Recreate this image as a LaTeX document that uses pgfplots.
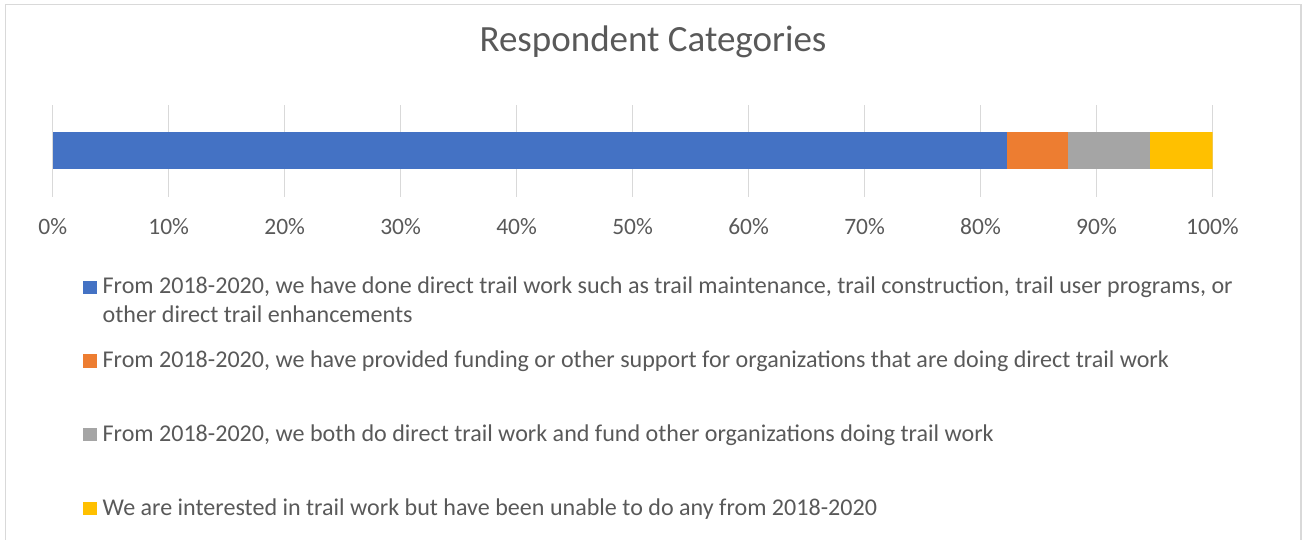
\documentclass[border=0pt]{standalone}
\usepackage{fontspec}
\setmainfont{Carlito}
\usepackage{pgfplots}
\pgfplotsset{compat=1.18}
\definecolor{cblue}{HTML}{4472C4}
\definecolor{corange}{HTML}{ED7D31}
\definecolor{cgray}{HTML}{A5A5A5}
\definecolor{cyellow}{HTML}{FFC000}
\definecolor{ctext}{HTML}{595959}
\definecolor{cgrid}{HTML}{D9D9D9}
\pgfplotsset{sq/.style={legend image code/.code={\fill[##1,draw=none] (0pt,0pt) rectangle (6.7pt,6.7pt);}}}
\begin{document}
\begin{tikzpicture}[x=1pt,y=1pt]
\useasboundingbox (0,0) rectangle (651.5,270);
\draw[color=cgrid, line width=0.7pt] (2.75,-10) -- (2.75,267.6) -- (650.5,267.6) -- (650.5,-10);
\begin{axis}[
  at={(26.35pt,171.5pt)}, anchor=south west,
  scale only axis, width=579.9pt, height=46pt,
  xbar stacked, bar width=18.5pt,
  xmin=0, xmax=100, ymin=0.5, ymax=1.5,
  ytick=\empty,
  xtick={0,10,...,100},
  /pgf/number format/assume math mode=true,
  xticklabel={\pgfmathprintnumber{\tick}\%},
  xticklabel style={anchor=base, inner sep=0pt, yshift=-19pt, text=ctext, font=\fontsize{11.75}{14}\selectfont},
  major tick length=0pt,
  axis line style={draw=none},
  xmajorgrids, grid style={cgrid, line width=0.6pt},
  title={Respondent Categories},
  title style={at={(0.5176,1.4565)}, anchor=base, inner sep=0pt, text=ctext, font=\fontsize{18.5}{22}\selectfont},
  legend cell align=left,
  legend style={at={(0.02638,-0.84783)}, anchor=north west, draw=none, fill=none,
    inner sep=0pt, outer sep=0pt, row sep=0pt, column sep=3pt,
    cells={anchor=base west},
    nodes={inner sep=0pt, text height=9.5pt, text depth=27.35pt, text=ctext, font=\fontsize{12.04}{14.2}\selectfont}},
]
\addplot[fill=cblue, draw=none, sq] coordinates {(82.3,1)};
\addplot[fill=corange, draw=none, sq] coordinates {(5.2,1)};
\addplot[fill=cgray, draw=none, sq] coordinates {(7.1,1)};
\addplot[fill=cyellow, draw=none, sq] coordinates {(5.4,1)};
\addlegendentry{\parbox[t]{600pt}{\raggedright From 2018-2020, we have done direct trail work such as trail maintenance, trail construction, trail user programs, or\\other direct trail enhancements}}
\addlegendentry{From 2018-2020, we have provided funding or other support for organizations that are doing direct trail work}
\addlegendentry{From 2018-2020, we both do direct trail work and fund other organizations doing trail work}
\addlegendentry{We are interested in trail work but have been unable to do any from 2018-2020}
\end{axis}
\end{tikzpicture}
\end{document}
